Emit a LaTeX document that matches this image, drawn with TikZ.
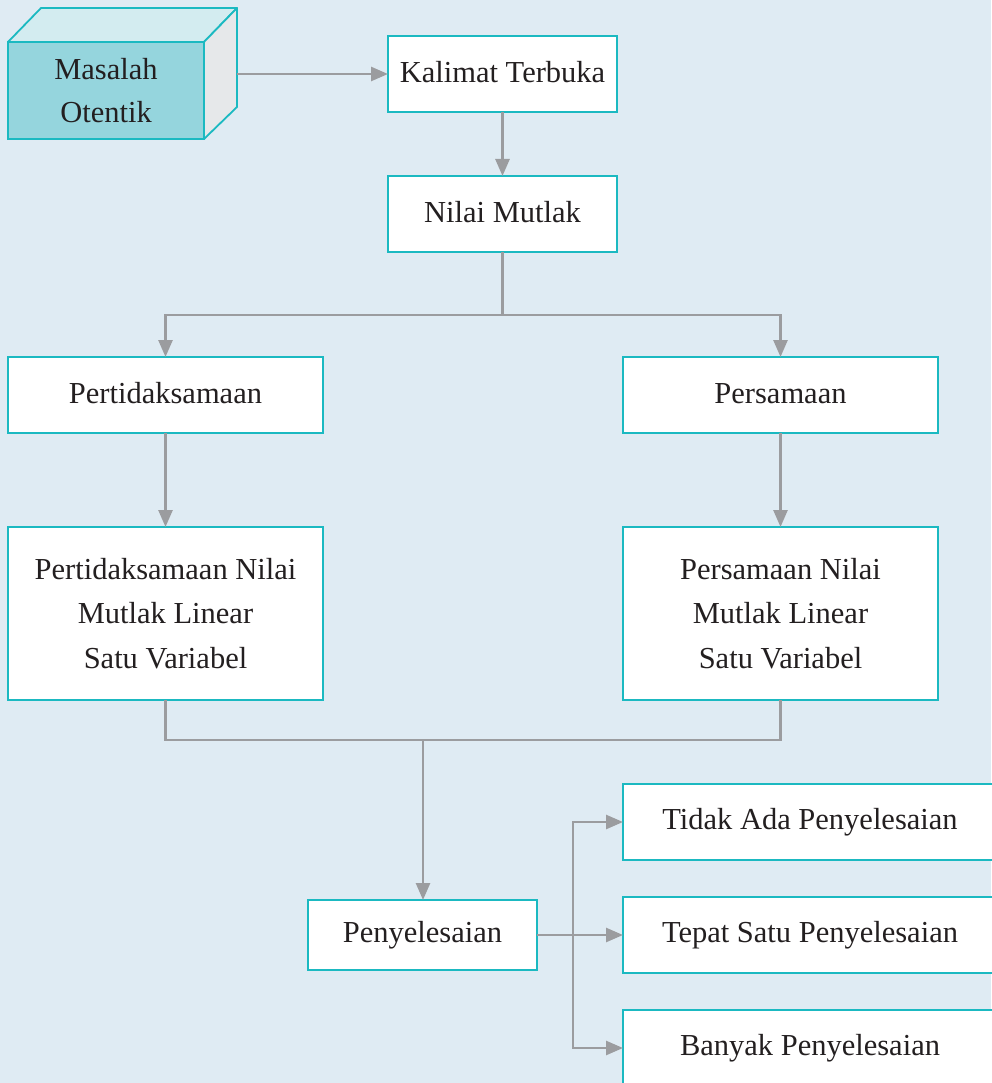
\documentclass[tikz,border=0pt]{standalone}
\usepackage{fontspec}
\setmainfont{Liberation Serif}
\usetikzlibrary{arrows.meta,calc}
\definecolor{bg}{HTML}{DFEBF3}
\definecolor{teal}{HTML}{1BB9C1}
\definecolor{frontc}{HTML}{95D5DD}
\definecolor{topc}{HTML}{D3ECF0}
\definecolor{sidec}{HTML}{E6E8EA}
\definecolor{linec}{HTML}{9B9C9F}
\definecolor{txt}{HTML}{231F20}
\newcommand{\up}[1]{\raisebox{3.5pt}{#1}}
\tikzset{
  box/.style={draw=teal, line width=1.8pt, fill=white, text=txt, font=\fontsize{30.5}{44.5}\selectfont, align=center, inner sep=0pt, outer sep=0pt},
  conn/.style={draw=linec, line width=2.6pt},
  arr/.style={conn, -{Triangle[length=17pt,width=14pt]}},
}
\begin{document}
\begin{tikzpicture}[x=1pt,y=-1pt]
\fill[bg] (0,0) rectangle (991,1083);
\useasboundingbox (0,0) rectangle (991,1083);
% cube
\filldraw[draw=teal, line width=1.8pt, fill=topc, line join=round] (8,42) -- (41,8) -- (237,8) -- (204,42) -- cycle;
\filldraw[draw=teal, line width=1.8pt, fill=sidec, line join=round] (204,42) -- (237,8) -- (237,107) -- (204,139) -- cycle;
\node[box, fill=frontc, minimum width=196pt, minimum height=97pt, anchor=north west] (cube) at (8,42) {Masalah\\[-2pt]Otentik};
\coordinate (cubeR) at (237,74);
% boxes
\node[box, minimum width=229pt, minimum height=76pt, anchor=north west] (kal) at (388,36) {\up{Kalimat Terbuka}};
\node[box, minimum width=229pt, minimum height=76pt, anchor=north west] (nil) at (388,176) {\up{Nilai Mutlak}};
\node[box, minimum width=315pt, minimum height=76pt, anchor=north west] (pert) at (8,357) {\up{Pertidaksamaan}};
\node[box, minimum width=315pt, minimum height=76pt, anchor=north west] (pers) at (623,357) {\up{Persamaan}};
\node[box, minimum width=315pt, minimum height=173pt, anchor=north west] (ptl) at (8,527) {Pertidaksamaan Nilai\\Mutlak Linear\\Satu Variabel};
\node[box, minimum width=315pt, minimum height=173pt, anchor=north west] (psl) at (623,527) {Persamaan Nilai\\Mutlak Linear\\Satu Variabel};
\node[box, minimum width=229pt, minimum height=70pt, anchor=north west] (peny) at (308,900) {\up{Penyelesaian}};
\node[box, minimum width=374pt, minimum height=76pt, anchor=north west] (tid) at (623,784) {\up{Tidak Ada Penyelesaian}};
\node[box, minimum width=374pt, minimum height=76pt, anchor=north west] (tep) at (623,897) {\up{Tepat Satu Penyelesaian}};
\node[box, minimum width=374pt, minimum height=76pt, anchor=north west] (ban) at (623,1010) {Banyak Penyelesaian};
% connectors
\coordinate (j1) at ($(nil.south)+(0,63)$);
\coordinate (j2) at (423,740);
\coordinate (j3) at (573,935);
\draw[arr] (cubeR) -- (kal.west);
\draw[arr] (kal.south) -- (nil.north);
\draw[conn] (nil.south) -- (j1);
\draw[arr] (j1) -| (pert.north);
\draw[arr] (j1) -| (pers.north);
\draw[arr] (pert.south) -- (ptl.north);
\draw[arr] (pers.south) -- (psl.north);
\draw[conn] (ptl.south) |- (j2);
\draw[conn] (psl.south) |- (j2);
\draw[arr] (j2) -- (j2 |- peny.north);
\draw[conn] (peny.east |- j3) -- (j3);
\draw[arr] (j3) |- (tid.west);
\draw[arr] (j3) -- (tep.west |- j3);
\draw[arr] (j3) |- (ban.west);
\end{tikzpicture}
\end{document}
